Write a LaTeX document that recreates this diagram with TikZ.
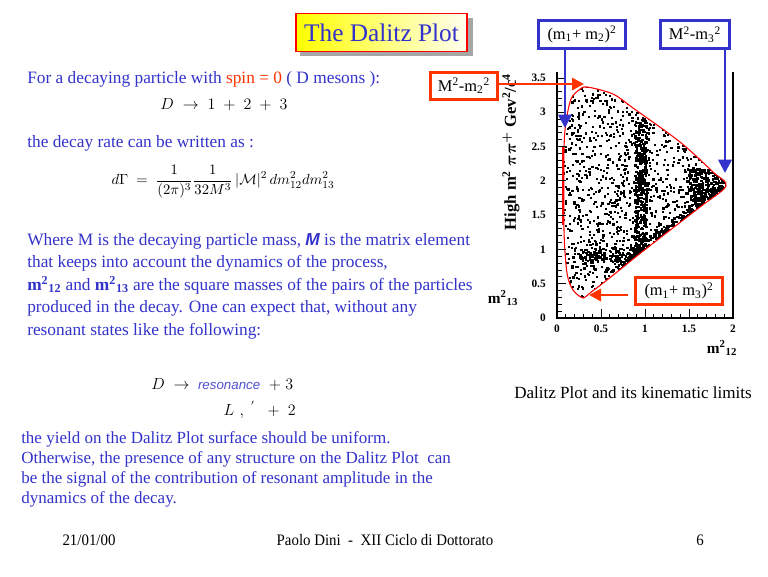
\documentclass[tikz,border=0pt]{standalone}
\usepackage{amsmath}
\usepackage{fontspec}
\setmainfont{Liberation Serif}
\newfontfamily\sansf{Liberation Sans}
\newfontfamily\footf[FakeStretch=0.93]{Liberation Serif}
\usetikzlibrary{arrows.meta,positioning}
\definecolor{txtblue}{RGB}{51,51,204}
\definecolor{boxred}{RGB}{255,51,0}
\definecolor{curvered}{RGB}{255,0,0}
\definecolor{resblue}{RGB}{80,80,210}
\tikzset{
  bluebox/.style={draw=txtblue,line width=2.2pt,minimum height=21pt,font=\fontsize{12.3}{13}\selectfont},
  redbox/.style={draw=boxred,line width=2.2pt,minimum height=20.25pt,font=\fontsize{12.3}{13}\selectfont},
  bluearrow/.style={draw=txtblue,line width=2pt,-{Triangle[length=10pt,width=10pt]}},
  redarrow/.style={draw=boxred,line width=2.2pt,-{Triangle[length=9pt,width=9pt]}},
  txt/.style={text=txtblue,font=\fontsize{13}{16.9}\selectfont,align=left,anchor=west},
  ticklab/.style={font=\fontsize{8.5}{10}\selectfont\bfseries},
  foot/.style={font=\footf\fontsize{12}{14}\selectfont},
  dot/.style={fill=black}
}
\begin{document}
\begin{tikzpicture}[x=0.75pt,y=-0.75pt,every node/.style={inner sep=0pt}]
  \useasboundingbox[fill=white] (0,0) rectangle (768,576);
  % title
  \fill[gray!70] (300,18) rectangle (473,56);
  \node[draw=red,line width=1.2pt,left color=yellow,right color=yellow!6,
        minimum width=128pt,minimum height=28.5pt,text=txtblue,
        font=\fontsize{19}{21}\selectfont] (title) at (381.5,32.5) {The Dalitz Plot};
  % left column
  \node[txt] (intro) at (27,79) {For a decaying particle with \textcolor{boxred}{spin = 0} ( D mesons ):};
  \node (decay) at (224,105) {\fontsize{12}{14}\selectfont$D \;\rightarrow\; 1 \;+\; 2 \;+\; 3$};
  \node[txt] (rate) at (27,143) {the decay rate can be written as :};
  \node (gamma) at (223,182) {\fontsize{11.2}{14}\selectfont$\displaystyle d\Gamma \;=\; \frac{1}{(2\pi)^3}\frac{1}{32M^3}\,|\mathcal{M}|^2\,dm^2_{12}dm^2_{13}$};
  \node[txt,anchor=north west] (where) at (27,233) {Where M is the decaying particle mass, {\sansf\bfseries\itshape M} is the matrix element\\
    that keeps into account the dynamics of the process,\\
    \textbf{m\textsuperscript{2}\textsubscript{12}} and \textbf{m\textsuperscript{2}\textsubscript{13}} are the square masses of the pairs of the particles\\
    produced in the decay. One can expect that, without any\\
    resonant states like the following:};
  \node[anchor=west] (res) at (151,385) {\fontsize{12}{14}\selectfont$D \;\rightarrow\;$ \textcolor{resblue}{\sansf\itshape\fontsize{10}{11}\selectfont resonance} $\;+\; 3$};
  \node[anchor=east] (sub) at (296,410) {\fontsize{12}{14}\selectfont$L\,\,,\;{}^{'}\;\; +\; 2$};
  \node[txt,anchor=north west,font=\fontsize{12.75}{15}\selectfont] (yield) at (21,431) {the yield on the Dalitz Plot surface should be uniform.\\
    Otherwise, the presence of any structure on the Dalitz Plot\ \ can\\
    be the signal of the contribution of resonant amplitude in the\\
    dynamics of the decay.};
  % scatter plot
  \begin{scope}
    \clip plot[smooth cycle] coordinates {(583,298) (573,290) (567,273) (564,230) (564,150) (566,122) (571,99) (579,90) (587,87) (613,94) (633,108) (680,142) (713,172) (726,186) (700,207) (647,248) (607,280) (590,293)};
    \pgfmathsetseed{4711}
    \foreach \i in {1,...,1700}{
      \pgfmathsetmacro\px{560+170*rnd}
      \pgfmathsetmacro\py{84+216*rnd}
      \fill[dot] (\px,\py) rectangle +(2.2,2.2);
    }
    \foreach \i in {1,...,380}{
      \pgfmathsetmacro\px{634+12*rnd}
      \pgfmathsetmacro\py{118+142*rnd}
      \fill[dot] (\px,\py) rectangle +(2.4,2.4);
    }
    \foreach \i in {1,...,320}{
      \pgfmathsetmacro\px{688+40*rnd}
      \pgfmathsetmacro\py{168+38*rnd}
      \fill[dot] (\px,\py) rectangle +(2.4,2.4);
    }
    \foreach \i in {1,...,200}{
      \pgfmathsetmacro\t{rnd}
      \pgfmathsetmacro\px{610+90*\t+8*rnd}
      \pgfmathsetmacro\py{272-70*\t-8*rnd}
      \fill[dot] (\px,\py) rectangle +(2.4,2.4);
    }
    \foreach \i in {1,...,140}{
      \pgfmathsetmacro\px{580+60*rnd}
      \pgfmathsetmacro\py{247+14*rnd}
      \fill[dot] (\px,\py) rectangle +(2.2,2.2);
    }
  \end{scope}
  \draw[curvered,line width=0.8pt] plot[smooth cycle] coordinates {(583,298) (573,290) (567,273) (564,230) (564,150) (566,122) (571,99) (579,90) (587,87) (613,94) (633,108) (680,142) (713,172) (726,186) (700,207) (647,248) (607,280) (590,293)};
  \draw[curvered,line width=2pt] (563,146) -- (563,225);
  % axes
  \draw[line width=0.8pt] (557,72) -- (557,318) -- (733,318) -- (733,72);
  \foreach \k in {0,...,35}{
    \pgfmathsetmacro\tl{ifthenelse(mod(\k,5)==0,9,4.5)}
    \draw[line width=0.6pt] (557,318-\k*6.857) -- ++(\tl,0);
  }
  \foreach \k in {0,...,20}{
    \pgfmathsetmacro\tl{ifthenelse(mod(\k,5)==0,9,4.5)}
    \draw[line width=0.6pt] (557+\k*8.8,318) -- ++(0,-\tl);
  }
  \foreach \v/\lab [count=\n] in {0/0,0.5/0.5,1/1,1.5/1.5,2/2,2.5/2.5,3/3,3.5/3.5}
    \node[ticklab,anchor=east] (yl\n) at (546,318-\v*68.57) {\lab};
  \foreach \v/\lab [count=\n] in {0/0,0.5/0.5,1/1,1.5/1.5,2/2}
    \node[ticklab] (xl\n) at (557+\v*88,329) {\lab};
  \node[rotate=90,font=\fontsize{12.5}{14}\selectfont\bfseries] (ytitle) at (511,152) {High m\textsuperscript{2} $\boldsymbol{\pi\pi^+}$ Gev\textsuperscript{2}/c\textsuperscript{4}};
  \node[font=\fontsize{11.5}{13}\selectfont\bfseries] (m13) at (503,298) {m\textsuperscript{2}\textsubscript{13}};
  \node[font=\fontsize{11.5}{13}\selectfont\bfseries] (m12) at (722,348) {m\textsuperscript{2}\textsubscript{12}};
  \node[font=\fontsize{12.8}{14}\selectfont] (caption) at (633,393) {Dalitz Plot and its kinematic limits};
  % limits
  \node[bluebox,minimum width=65.25pt] (b12) at (582,34.5) {(m\textsubscript{1}+ m\textsubscript{2})\textsuperscript{2}};
  \node[bluebox,minimum width=51.75pt] (b3) at (695,34.5) {M\textsuperscript{2}-m\textsubscript{3}\textsuperscript{2}};
  \node[redbox,minimum width=50.25pt] (r2) at (464,86) {M\textsuperscript{2}-m\textsubscript{2}\textsuperscript{2}};
  \node[redbox,minimum width=65.25pt] (r13) at (679,291) {(m\textsubscript{1}+ m\textsubscript{3})\textsuperscript{2}};
  \coordinate (t12) at (565,128);
  \coordinate (t3) at (725,173);
  \coordinate (t2) at (584,84);
  \coordinate (t13) at (589,295);
  \draw[bluearrow] (t12 |- b12.south) -- (t12);
  \draw[bluearrow] (t3 |- b3.south) -- (t3);
  \draw[redarrow] (r2.east |- t2) -- (t2);
  \draw[redarrow] ([xshift=-4.5pt]r13.west |- t13) -- (t13);
  % footer
  \node[foot] (date) at (89,540) {21/01/00};
  \node[foot] (author) at (385,540) {Paolo Dini \ - \ XII Ciclo di Dottorato};
  \node[foot] (page) at (700,540) {6};
\end{tikzpicture}
\end{document}
